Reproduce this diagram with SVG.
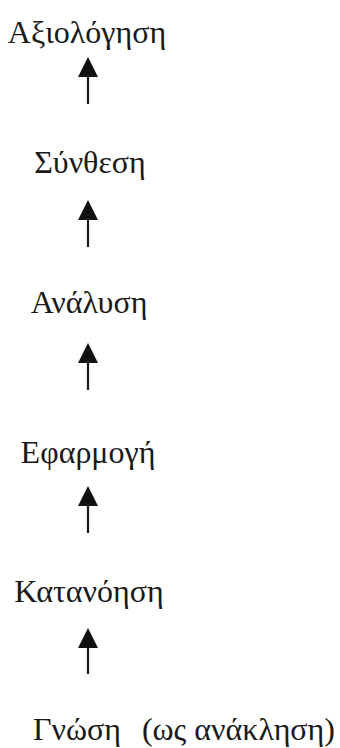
<svg xmlns="http://www.w3.org/2000/svg" width="340" height="748" viewBox="0 0 340 748">
<style>
.t{font-family:"Liberation Serif","DejaVu Serif",serif;font-size:32px;fill:#1a1a1a;text-anchor:middle}
.l{stroke:#1a1a1a;stroke-width:2.2;fill:none}
.h{fill:#111}
</style>
<rect width="340" height="748" fill="#fff"/>
<g id="n1"><text class="t" x="87" y="43">Αξιολόγηση</text></g>
<g id="n2"><text class="t" x="90" y="173">Σύνθεση</text></g>
<g id="n3"><text class="t" x="89" y="313">Ανάλυση</text></g>
<g id="n4"><text class="t" x="88" y="463">Εφαρμογή</text></g>
<g id="n5"><text class="t" x="89" y="602">Κατανόηση</text></g>
<g id="n6"><text class="t" style="text-anchor:start" x="33" y="740">Γνώση</text><text class="t" style="text-anchor:end" x="335" y="740">(ως ανάκληση)</text></g>
<g id="connectors">
<line class="l" x1="88" y1="74" x2="88" y2="104"/><polygon class="h" points="88,57 78,77 98,77"/>
<line class="l" x1="88" y1="217" x2="88" y2="247"/><polygon class="h" points="88,200 78,220 98,220"/>
<line class="l" x1="88" y1="360" x2="88" y2="390"/><polygon class="h" points="88,343 78,363 98,363"/>
<line class="l" x1="88" y1="503" x2="88" y2="533"/><polygon class="h" points="88,486 78,506 98,506"/>
<line class="l" x1="88" y1="645" x2="88" y2="674"/><polygon class="h" points="88,628 78,648 98,648"/>
</g>
</svg>
